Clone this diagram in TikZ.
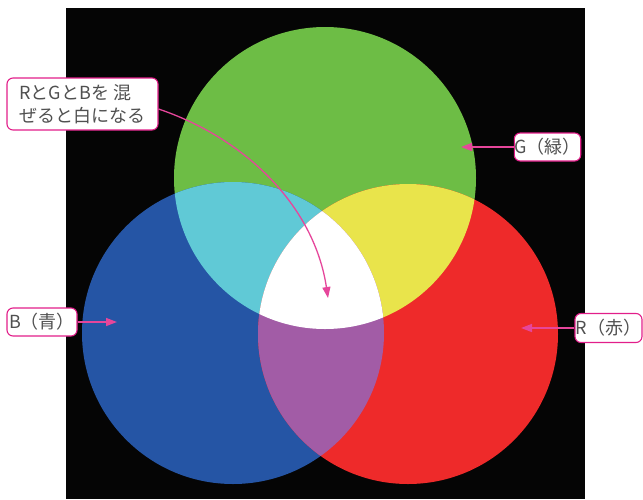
\documentclass[tikz,border=0pt]{standalone}
\usepackage{fontspec}
\setmainfont{Noto Sans CJK JP}
\usetikzlibrary{arrows.meta}
\definecolor{gcol}{RGB}{109,189,69}
\definecolor{bcol}{RGB}{37,85,165}
\definecolor{rcol}{RGB}{238,42,42}
\definecolor{ccol}{RGB}{96,201,214}
\definecolor{ycol}{RGB}{233,228,75}
\definecolor{pcol}{RGB}{162,92,166}
\definecolor{mag}{RGB}{226,30,138}
\definecolor{arrc}{RGB}{230,70,155}
\definecolor{txt}{RGB}{80,80,80}
\tikzset{
  lbl/.style={draw=mag, line width=1.1pt, fill=white, rounded corners=6pt,
    text=txt, font=\fontsize{18}{23}\selectfont, inner sep=0pt, align=left},
  arr/.style={draw=arrc, line width=1.5pt, -{Triangle[length=11pt,width=8pt]}},
}
\begin{document}
\begin{tikzpicture}[x=1pt,y=-1pt]
\useasboundingbox (0,0) rectangle (643,499);
\fill[black!98] (66,8) rectangle (585,499);
\coordinate (G) at (325,178);
\coordinate (B) at (233,333);
\coordinate (R) at (408,334);
\def\rG{151pt}\def\rB{151pt}\def\rR{150pt}
\fill[gcol] (G) circle[radius=\rG];
\fill[bcol] (B) circle[radius=\rB];
\fill[rcol] (R) circle[radius=\rR];
\begin{scope}
  \clip (G) circle[radius=\rG];
  \fill[ccol] (B) circle[radius=\rB];
  \fill[ycol] (R) circle[radius=\rR];
\end{scope}
\begin{scope}
  \clip (B) circle[radius=\rB];
  \fill[pcol] (R) circle[radius=\rR];
\end{scope}
\begin{scope}
  \clip (G) circle[radius=\rG];
  \clip (B) circle[radius=\rB];
  \fill[white] (R) circle[radius=\rR];
\end{scope}
% labels
\node[lbl, minimum width=151pt, minimum height=52pt] (wl) at (82.5,104) {RとGとBを 混\\ぜると白になる};
\node[lbl, minimum width=66pt, minimum height=28pt] (gl) at (547.5,147) {G（緑）};
\node[lbl, minimum width=70pt, minimum height=28pt] (bl) at (42,322) {B（青）};
\node[lbl, minimum width=67pt, minimum height=29pt] (rl) at (608.5,328) {R（赤）};
\coordinate (gt) at (461,147);
\coordinate (bt) at (117,322);
\coordinate (rt) at (521,328);
\coordinate (wt) at (328,298);
\draw[arr] (gl.west) -- (gt);
\draw[arr] (bl.east) -- (bt);
\draw[arr] (rl.west) -- (rt);
\draw[arr, line width=1.3pt] ([yshift=-5pt]wl.east) .. controls (250,140) and (315,210) .. (wt);
\end{tikzpicture}
\end{document}
